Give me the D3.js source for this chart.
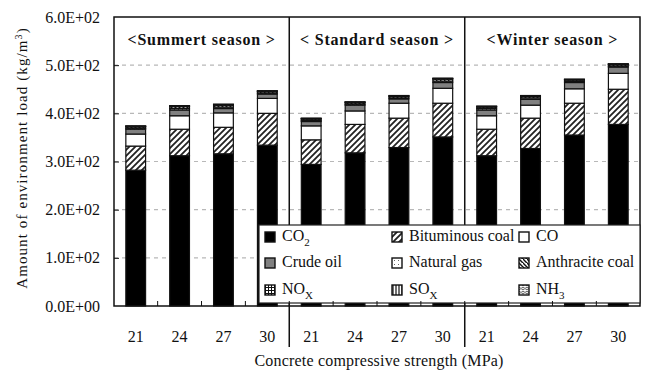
<!DOCTYPE html>
<html>
<head>
<meta charset="utf-8">
<script src="https://cdn.jsdelivr.net/npm/d3@7"></script>
<style>
  body { margin: 0; background: #fff; }
  text { font-family: "Liberation Serif", "Times New Roman", serif; fill: #111; }
</style>
</head>
<body>
<svg id="chart"></svg>
<script>
    var w = 653;
    var h = 372;

    // data
    var seasons = ["<Summert season >", "< Standard season >", "<Winter season >"];
    var strengths = [21, 24, 27, 30];
    var yTicks = [0, 100, 200, 300, 400, 500, 600];

    var co2        = [282, 312, 316, 334,  294, 318, 329, 351,  312, 327, 355, 377];
    var bituminous = [50, 55, 55, 66,      51, 59, 61, 70,      55, 63, 66, 73];
    var co         = [25, 28, 30, 31,      29, 28, 31, 31,      28, 27, 30, 33];
    var crudeOil   = [10, 12, 9, 9,        9, 12, 9, 12,        12, 12, 13, 13];
    var naturalGas = [2, 3, 3, 2,          2, 2, 2, 3,          3, 3, 2, 2];
    var anthracite = [3, 4, 4, 3,          3, 3, 3, 4,          3, 3, 3, 3];
    var nox        = [1, 1, 1, 1,          1, 1, 1, 1,          1, 1, 1, 1];
    var sox        = [0.5, 0.5, 0.5, 0.5,  0.5, 0.5, 0.5, 0.5,  0.5, 0.5, 0.5, 0.5];
    var nh3        = [0.5, 0.5, 0.5, 0.5,  0.5, 0.5, 0.5, 0.5,  0.5, 0.5, 0.5, 0.5];

    var series = [
        {key: "co2", label: "CO", sub: "2", vals: co2, fill: "#000"},
        {key: "bit", label: "Bituminous coal", sub: "", vals: bituminous, fill: "url(#p-bit)"},
        {key: "co", label: "CO", sub: "", vals: co, fill: "#fff"},
        {key: "oil", label: "Crude oil", sub: "", vals: crudeOil, fill: "#808080"},
        {key: "gas", label: "Natural gas", sub: "", vals: naturalGas, fill: "url(#p-gas)"},
        {key: "ant", label: "Anthracite coal", sub: "", vals: anthracite, fill: "url(#p-ant)"},
        {key: "nox", label: "NO", sub: "X", vals: nox, fill: "url(#p-nox)"},
        {key: "sox", label: "SO", sub: "X", vals: sox, fill: "url(#p-sox)"},
        {key: "nh3", label: "NH", sub: "3", vals: nh3, fill: "url(#p-nh3)"}
    ];

    // one row per bar
    var rows = [];
    seasons.forEach(function(s, si) {
        strengths.forEach(function(st, ti) {
            var i = si * 4 + ti;
            var r = {id: si + "-" + st, season: si, strength: st};
            series.forEach(function(d) { r[d.key] = d.vals[i]; });
            rows.push(r);
        });
    });

    var pL = 114, pR = 640, pT = 17, pB = 306;

    var svg = d3.select("#chart").attr("width", w).attr("height", h);

    // patterns
    var defs = svg.append("defs");
    var pat = function(id, size, draw) {
        var p = defs.append("pattern").attr("id", id)
            .attr("patternUnits", "userSpaceOnUse")
            .attr("width", size).attr("height", size);
        p.append("rect").attr("width", size).attr("height", size).attr("fill", "#fff");
        draw(p);
    };
    pat("p-bit", 6, function(p) {
        p.append("path").attr("d", "M-1,7 L7,-1 M-4,4 L4,-4 M2,10 L10,2")
            .attr("stroke", "#222").attr("stroke-width", 1.8);
    });
    pat("p-ant", 4, function(p) {
        p.append("path").attr("d", "M-1,-1 L5,5 M-3,1 L1,5 M3,-3 L7,1")
            .attr("stroke", "#111").attr("stroke-width", 1.4);
    });
    pat("p-gas", 4, function(p) {
        p.append("rect").attr("x", 2).attr("y", 1).attr("width", 1).attr("height", 1).attr("fill", "#666");
    });
    pat("p-nox", 3, function(p) {
        p.append("path").attr("d", "M0,0.5 H3 M0.5,0 V3").attr("stroke", "#111").attr("stroke-width", 1);
    });
    pat("p-sox", 3, function(p) {
        p.append("path").attr("d", "M1,0 V3").attr("stroke", "#111").attr("stroke-width", 1.2);
    });
    pat("p-nh3", 4, function(p) {
        p.append("path").attr("d", "M0,1 L2,2.5 L4,1 M0,3 L2,4.5 L4,3")
            .attr("stroke", "#333").attr("stroke-width", 0.8).attr("fill", "none");
    });

    var x = d3.scaleBand()
        .domain(rows.map(function(d) { return d.id; }))
        .range([pL, pR])
        .paddingInner(0.55)
        .paddingOuter(0.27);

    var y = d3.scaleLinear().domain([0, 600]).range([pB, pT]);

    var sci = function(d) {
        var parts = d.toExponential(1).split("e");
        var n = +parts[1];
        return parts[0] + "E" + (n < 0 ? "-" : "+") + String(Math.abs(n)).padStart(2, "0");
    };

    // grid lines
    svg.append("g").selectAll("line")
        .data(yTicks.filter(function(d) { return d > 0 && d < 600; }))
        .enter().append("line")
        .attr("x1", pL).attr("x2", pR)
        .attr("y1", function(d) { return y(d); })
        .attr("y2", function(d) { return y(d); })
        .attr("stroke", "#b8b8b8")
        .attr("stroke-width", 1.2)
        .attr("stroke-dasharray", "4,4");

    // stacked bars
    var stack = d3.stack().keys(series.map(function(d) { return d.key; }));
    var layers = stack(rows);

    svg.append("g").selectAll("g")
        .data(layers)
        .enter().append("g")
        .attr("fill", function(d, i) { return series[i].fill; })
        .selectAll("rect")
        .data(function(d) { return d; })
        .enter().append("rect")
        .attr("x", function(d) { return x(d.data.id); })
        .attr("width", x.bandwidth())
        .attr("y", function(d) { return y(d[1]); })
        .attr("height", function(d) { return y(d[0]) - y(d[1]); })
        .attr("stroke", "#111")
        .attr("stroke-width", 1.2);

    // legend
    var lg = svg.append("g");
    lg.append("rect")
        .attr("x", 259).attr("y", 225).attr("width", pR - 259).attr("height", 78)
        .attr("fill", "#fff").attr("stroke", "#222").attr("stroke-width", 1.2);

    var colX = [265, 392, 519];
    var rowY = [237, 263, 290];
    var items = lg.selectAll("g.item")
        .data(series)
        .enter().append("g")
        .attr("class", "item")
        .attr("transform", function(d, i) {
            return "translate(" + [colX[i % 3], rowY[Math.floor(i / 3)]] + ")";
        });
    items.append("rect")
        .attr("x", 0).attr("y", -5).attr("width", 10).attr("height", 10)
        .attr("fill", function(d) { return d.fill; })
        .attr("stroke", "#111").attr("stroke-width", 1.4);
    var lt = items.append("text")
        .attr("x", 17).attr("y", 4)
        .style("font-size", "16px");
    lt.append("tspan").text(function(d) { return d.label; });
    lt.append("tspan")
        .attr("dy", 5)
        .style("font-size", "11px")
        .text(function(d) { return d.sub; });

    // plot frame
    svg.append("rect")
        .attr("x", pL).attr("y", pT)
        .attr("width", pR - pL).attr("height", pB - pT)
        .attr("fill", "none").attr("stroke", "#111").attr("stroke-width", 1.5);

    // season separators
    var sepX = [4, 8].map(function(i) { return x(rows[i].id) - x.step() * x.paddingInner() / 2; });
    svg.append("g").selectAll("line")
        .data(sepX)
        .enter().append("line")
        .attr("x1", function(d) { return d; }).attr("x2", function(d) { return d; })
        .attr("y1", pT).attr("y2", 347)
        .attr("stroke", "#111").attr("stroke-width", 1.5);
    // legend hides the separators inside its box
    lg.raise();

    // season titles
    var bounds = [pL].concat(sepX).concat([pR]);
    svg.append("g").selectAll("text")
        .data(seasons)
        .enter().append("text")
        .attr("x", function(d, i) { return (bounds[i] + bounds[i + 1]) / 2; })
        .attr("y", 45)
        .attr("text-anchor", "middle")
        .style("font-size", "16px")
        .style("font-weight", "bold")
        .style("letter-spacing", "0.8px")
        .text(function(d) { return d; });

    // y axis
    var ya = svg.append("g")
        .attr("transform", "translate(" + pL + ",0)")
        .call(d3.axisLeft(y).tickValues(yTicks).tickFormat(sci).tickSizeInner(-5).tickSizeOuter(0).tickPadding(14));
    ya.select(".domain").remove();
    ya.selectAll("line").attr("stroke", "#111");
    ya.selectAll("text").style("font-size", "16px").attr("fill", "#111")
        .style("font-family", "'Liberation Serif', serif");
    ya.selectAll(".tick").filter(function(d) { return d === 0 || d === 600; }).select("line").remove();

    // x ticks between bars
    svg.append("g").selectAll("line")
        .data(rows.slice(1))
        .enter().append("line")
        .attr("x1", function(d) { return x(d.id) - x.step() * x.paddingInner() / 2; })
        .attr("x2", function(d) { return x(d.id) - x.step() * x.paddingInner() / 2; })
        .attr("y1", pB).attr("y2", pB - 5)
        .attr("stroke", "#111");

    // x labels
    svg.append("g").selectAll("text")
        .data(rows)
        .enter().append("text")
        .attr("x", function(d) { return x(d.id) + x.bandwidth() / 2; })
        .attr("y", 342)
        .attr("text-anchor", "middle")
        .style("font-size", "16px")
        .text(function(d) { return d.strength; });

    // axis titles
    svg.append("text")
        .attr("x", 379).attr("y", 366)
        .attr("text-anchor", "middle")
        .style("font-size", "16px")
        .style("letter-spacing", "0.2px")
        .text("Concrete compressive strength (MPa)");

    var yt = svg.append("text")
        .attr("transform", "translate(27,158)rotate(-90)")
        .attr("text-anchor", "middle")
        .style("font-size", "15px")
        .style("letter-spacing", "1.1px");
    yt.append("tspan").text("Amount of environment load (kg/m");
    yt.append("tspan").attr("dy", -5).style("font-size", "10px").text("3");
    yt.append("tspan").attr("dy", 5).text(")");
</script>
</body>
</html>
